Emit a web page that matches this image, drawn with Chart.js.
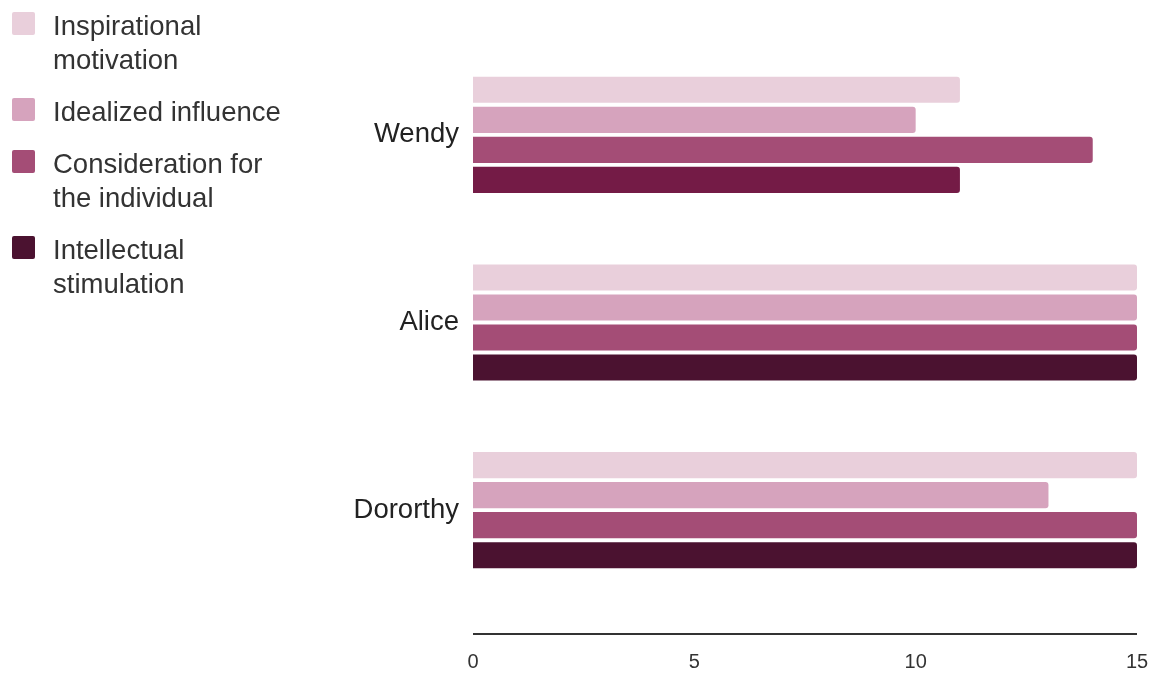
<!DOCTYPE html>
<html>
<head>
<meta charset="utf-8">
<script src="https://cdn.jsdelivr.net/npm/chart.js@4/dist/chart.umd.min.js"></script>
<style>
  html, body { margin: 0; padding: 0; background: #fff; }
  #wrap { position: relative; width: 1157px; height: 675px; }
  #legend {
    position: absolute; left: 12px; top: 9px;
    font-family: "Liberation Sans", Arial, sans-serif;
    font-size: 27.5px; color: #333; line-height: 34px;
  }
  .item { display: flex; margin-bottom: 18px; }
  .box { width: 23px; height: 23px; border-radius: 2px; margin: 3px 18px 0 0; flex: none; }
  .txt { width: 238px; }
</style>
</head>
<body>
<div id="wrap">
  <canvas id="chart" width="1157" height="675"></canvas>
  <div id="legend"></div>
</div>
<script>
// data
const people = ['Wendy', 'Alice', 'Dororthy'];
const seriesNames = ['Inspirational motivation', 'Idealized influence', 'Consideration for the individual', 'Intellectual stimulation'];
const inspirational = [11, 15, 15];
const idealized = [10, 15, 13];
const consideration = [14, 15, 15];
const intellectual = [11, 15, 15];
const xTicks = [0, 5, 10, 15];

const colors = ['#e9cfdb', '#d6a3bd', '#a44d76', '#4b1230'];
// Wendy's last bar is drawn a bit lighter in the original
const intellectualColors = ['#741b46', '#4b1230', '#4b1230'];

const values = [inspirational, idealized, consideration, intellectual];

const datasets = values.map((v, i) => ({
    label: seriesNames[i],
    data: v,
    backgroundColor: i === 3 ? intellectualColors : colors[i],
    borderRadius: 3,
    borderSkipped: 'start',
    categoryPercentage: 0.64,
    barPercentage: 0.87
}));

// axis line sits a little below the plot area
const axisLine = {
    id: 'axisLine',
    afterDraw(chart) {
        const c = chart.ctx, a = chart.chartArea;
        c.save();
        c.strokeStyle = '#333';
        c.lineWidth = 2;
        c.beginPath();
        c.moveTo(a.left, a.bottom + 30);
        c.lineTo(a.right, a.bottom + 30);
        c.stroke();
        c.restore();
    }
};

const ctx = document.getElementById('chart').getContext('2d');
new Chart(ctx, {
    type: 'bar',
    data: { labels: people, datasets: datasets },
    plugins: [axisLine],
    options: {
        indexAxis: 'y',
        responsive: false,
        animation: false,
        layout: { padding: { top: 41, right: 20, left: 0, bottom: 0 } },
        plugins: {
            legend: { display: false },
            tooltip: { enabled: false }
        },
        scales: {
            x: {
                min: 0,
                max: 15,
                afterBuildTicks: s => { s.ticks = xTicks.map(v => ({ value: v })); },
                afterFit: s => { s.height = 71; s.paddingLeft = 0; s.paddingRight = 0; },
                grid: { display: false, drawTicks: false },
                border: { display: false },
                ticks: {
                    padding: 46,
                    color: '#333',
                    font: { family: "'Liberation Sans', Arial, sans-serif", size: 20 }
                }
            },
            y: {
                afterFit: s => { s.width = 473; },
                grid: { display: false, drawTicks: false },
                border: { display: false },
                ticks: {
                    padding: 14,
                    color: '#222',
                    font: { family: "'Liberation Sans', Arial, sans-serif", size: 27.5 }
                }
            }
        }
    }
});

// html legend on the left, built from the same series names
const leg = document.getElementById('legend');
seriesNames.forEach((name, i) => {
    const item = document.createElement('div');
    item.className = 'item';
    item.innerHTML = '<div class="box" style="background:' + colors[i] + '"></div><div class="txt">' + name + '</div>';
    leg.appendChild(item);
});
</script>
</body>
</html>
